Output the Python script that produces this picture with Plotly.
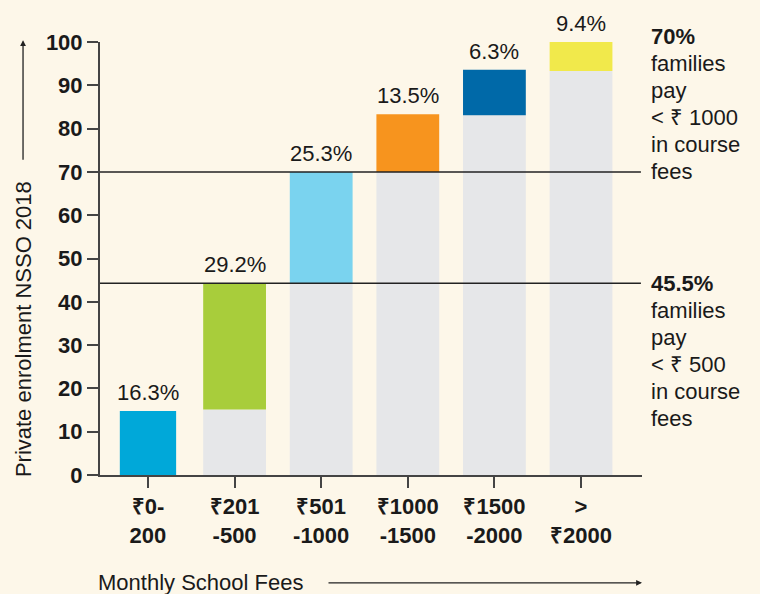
import plotly.graph_objects as go

categories = ["₹0-<br>200", "₹201<br>-500", "₹501<br>-1000", "₹1000<br>-1500", "₹1500<br>-2000", "><br>₹2000"]
share_labels = ["16.3%", "29.2%", "25.3%", "13.5%", "6.3%", "9.4%"]
bar_low = [0, 15.1, 44.3, 70, 83.1, 93.3]
bar_high = [14.8, 44.3, 70, 83.3, 93.6, 100]
bar_colors = ["#00a8d9", "#a8cd3b", "#7ad3ef", "#f7941e", "#0069a8", "#f1e94b"]
bar_widths = [0.65, 0.725, 0.725, 0.725, 0.725, 0.725]
cutoffs = [70, 44.3]
note_upper = ["<b>70%</b>", "families", "pay", "< ₹ 1000", "in course", "fees"]
note_lower = ["<b>45.5%</b>", "families", "pay", "< ₹ 500", "in course", "fees"]
y_ticks = [0, 10, 20, 30, 40, 50, 60, 70, 80, 90, 100]

BG = "#fdf7e9"
GRAY = "#e6e7e9"
FONT = "Liberation Sans, Arial, sans-serif"
INK = "#1a1a1a"
LINE_STEP = 27

fig = go.Figure()
fig.add_trace(go.Bar(x=categories, y=bar_low, width=bar_widths,
                     marker=dict(color=GRAY, line=dict(width=0)), hoverinfo="skip"))
fig.add_trace(go.Bar(x=categories, y=[h - l for h, l in zip(bar_high, bar_low)], base=bar_low,
                     width=bar_widths, marker=dict(color=bar_colors, line=dict(width=0))))

for c, h, s in zip(categories, bar_high, share_labels):
    fig.add_annotation(x=c, y=h, text=s, showarrow=False, yanchor="bottom", yshift=4,
                       font=dict(size=22, color=INK, family=FONT))

for yv in cutoffs:
    fig.add_shape(type="line", xref="paper", x0=0, x1=0.998, yref="y", y0=yv, y1=yv,
                  line=dict(color="#222", width=1.5), layer="above")

n_up = len(note_upper)
for i, t in enumerate(note_upper):
    fig.add_annotation(xref="paper", yref="y", x=1.012, y=cutoffs[0], text=t,
                       showarrow=False, xanchor="left", yanchor="middle", align="left",
                       yshift=(n_up - 1 - i) * LINE_STEP,
                       font=dict(size=22, color=INK, family=FONT))
for i, t in enumerate(note_lower):
    fig.add_annotation(xref="paper", yref="y", x=1.012, y=cutoffs[1], text=t,
                       showarrow=False, xanchor="left", yanchor="middle", align="left",
                       yshift=-i * LINE_STEP,
                       font=dict(size=22, color=INK, family=FONT))

# axis titles with arrows
fig.add_annotation(xref="paper", yref="paper", x=-0.142, y=0.337, text="Private enrolment NSSO 2018",
                   textangle=-90, showarrow=False, xanchor="center", yanchor="middle",
                   font=dict(size=22, color=INK, family=FONT))
fig.add_annotation(xref="paper", yref="paper", x=-0.142, y=1.004, ax=0, ay=121, text="",
                   showarrow=True, arrowhead=2, arrowsize=0.9, arrowwidth=1.3, arrowcolor="#222")
fig.add_annotation(xref="paper", yref="paper", x=0.186, y=-0.249, text="Monthly School Fees",
                   showarrow=False, xanchor="center", yanchor="middle",
                   font=dict(size=22, color=INK, family=FONT))
fig.add_annotation(xref="paper", yref="paper", x=1.0, y=-0.249, ax=-315, ay=0, text="",
                   showarrow=True, arrowhead=2, arrowsize=0.9, arrowwidth=1.3, arrowcolor="#222")

fig.update_layout(
    width=760, height=594,
    margin=dict(l=100, r=118, t=42, b=119),
    paper_bgcolor=BG, plot_bgcolor=BG,
    barmode="overlay", showlegend=False,
    font=dict(family=FONT, color=INK),
)
fig.update_xaxes(type="category", range=[-0.554, 5.704], showgrid=False, zeroline=False,
                 showline=True, linecolor="#444", linewidth=2,
                 ticks="outside", ticklen=11, tickwidth=1.5, tickcolor="#444",
                 tickfont=dict(size=22, color=INK, family=FONT, weight="bold"))
fig.update_yaxes(range=[0, 100], tickvals=y_ticks, showgrid=False, zeroline=False,
                 showline=True, linecolor="#444", linewidth=2,
                 ticks="outside", ticklen=11, tickwidth=1.5, tickcolor="#444",
                 tickfont=dict(size=22, color=INK, family=FONT, weight="bold"))

fig.write_html("out.html", config={"displayModeBar": False},
               post_script="document.body.style.margin='0';document.body.style.padding='0';"
                           "document.body.style.background='" + BG + "';")
